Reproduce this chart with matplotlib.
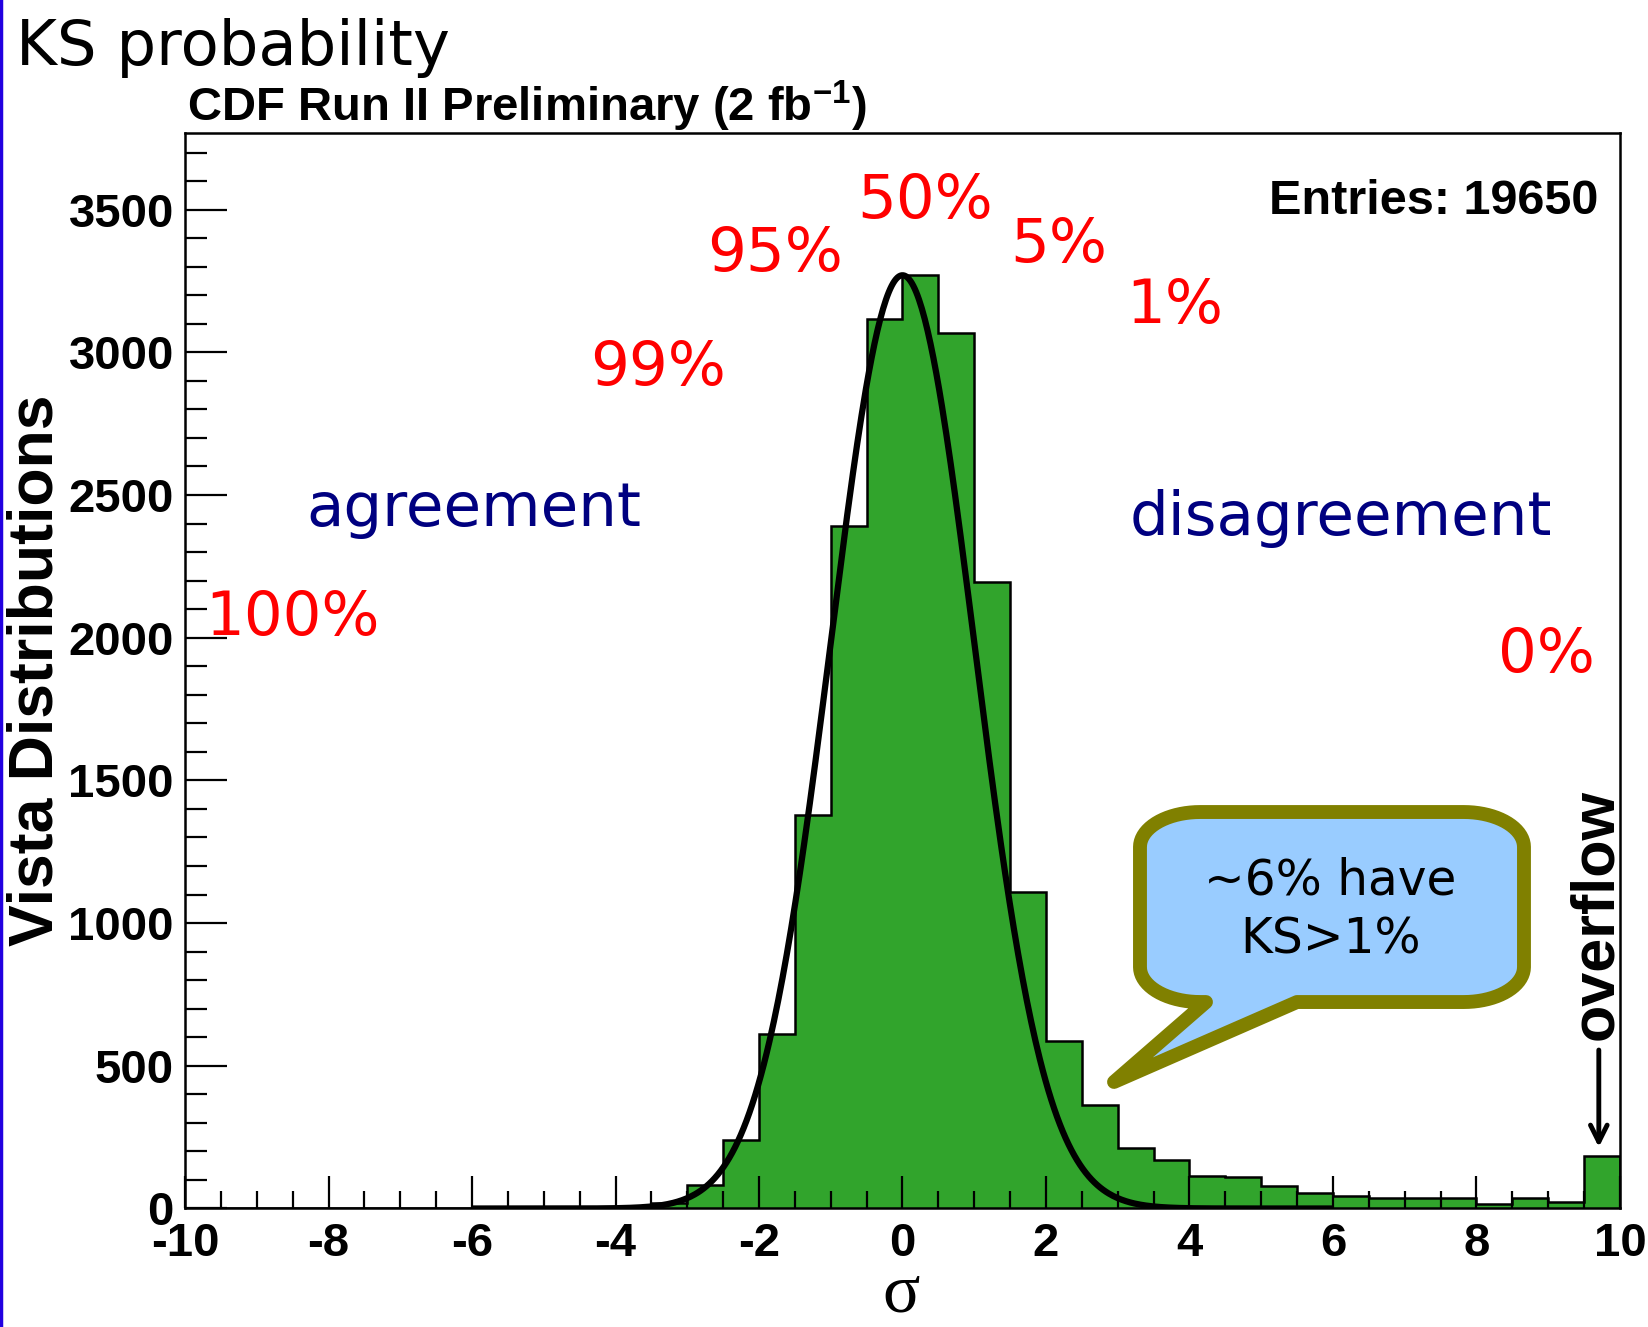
import numpy as np
import matplotlib
matplotlib.use('Agg')
import matplotlib.pyplot as plt
from matplotlib.patches import Polygon
from matplotlib.lines import Line2D

# histogram of sigma values, 40 bins of width 0.5 from -10 to 10
bin_edges = np.linspace(-10, 10, 41)
counts = [0, 0, 0, 0, 0, 0, 0, 0, 0, 0, 0, 0,
          4, 18, 81, 241, 612, 1378, 2392, 3118,
          3270, 3066, 2196, 1109, 586, 361, 212, 170,
          115, 109, 80, 53, 44, 36, 36, 36, 17, 36, 24, 185]

# gaussian fit drawn over the histogram
fit_amp = 3270
fit_mean = 0.0
fit_sigma = 1.0
fit_range = (-6, 6)

# red KS probability labels: text, x, y (data coords)
pct_labels = ['100%', '99%', '95%', '50%', '5%', '1%', '0%']
pct_x = [-8.50, -3.40, -1.78, 0.32, 2.18, 3.79, 8.98]
pct_y = [2011, 2885, 3286, 3470, 3316, 3102, 1879]

entries = 19650

plt.rcParams['axes.unicode_minus'] = False
plt.rcParams['mathtext.fontset'] = 'custom'
plt.rcParams['mathtext.rm'] = 'Liberation Sans:bold'
plt.rcParams['mathtext.it'] = 'Liberation Sans:bold'
plt.rcParams['mathtext.bf'] = 'Liberation Sans:bold'

green = '#31a42c'
root_font = dict(family='Liberation Sans', weight='bold')

fig = plt.figure(figsize=(16.49, 13.27), dpi=100)
ax = fig.add_axes([0.1122, 0.0893, 0.8702, 0.8108])

ax.stairs(counts, bin_edges, fill=True, color=green)
ax.stairs(counts, bin_edges, color='black', lw=1.8)

xs = np.linspace(fit_range[0], fit_range[1], 600)
ax.plot(xs, fit_amp * np.exp(-0.5 * ((xs - fit_mean) / fit_sigma) ** 2),
        color='black', lw=4.5, solid_capstyle='butt')

ax.set_xlim(-10, 10)
ax.set_ylim(0, 3770)
ax.set_xticks(np.arange(-10, 11, 2))
ax.set_xticks(np.arange(-10, 10.01, 0.5), minor=True)
ax.set_yticks(np.arange(0, 3501, 500))
ax.set_yticks(np.arange(0, 3770, 100), minor=True)
ax.tick_params(axis='both', which='both', direction='in', width=1.6,
               top=False, right=False)
ax.tick_params(axis='x', which='major', length=23, pad=10)
ax.tick_params(axis='x', which='minor', length=12)
ax.tick_params(axis='y', which='major', length=30, pad=8)
ax.tick_params(axis='y', which='minor', length=16)
for lab in ax.get_xticklabels() + ax.get_yticklabels():
    lab.set_fontfamily('Liberation Sans')
    lab.set_fontweight('bold')
    lab.set_fontsize(34)
for sp in ax.spines.values():
    sp.set_linewidth(1.8)

ax.set_ylabel('Vista Distributions', fontsize=45, labelpad=2, **root_font)
# x axis title, placed by hand to sit low like the original
fig.text(901 / 1649, 1 - 1312 / 1327, 'σ', fontsize=50,
         family='Liberation Serif', ha='center', va='baseline')

fig.text(187 / 1649, 1 - 121 / 1327, r'CDF Run II Preliminary (2 fb$^{-1}$)',
         fontsize=34, va='baseline', ha='left', **root_font)
fig.text(16 / 1649, 1 - 65 / 1327, 'KS probability', fontsize=45,
         family='DejaVu Sans', va='baseline', ha='left')
fig.add_artist(Line2D([1.5 / 1649, 1.5 / 1649], [0, 1], color='#2200e0', lw=2.5,
                      transform=fig.transFigure))

ax.text(9.70, 3485, f'Entries: {entries}', fontsize=35, ha='right',
        va='baseline', **root_font)

for lab, x, y in zip(pct_labels, pct_x, pct_y):
    ax.text(x, y, lab, color='red', fontsize=44, family='DejaVu Sans',
            ha='center', va='baseline', clip_on=False)
ax.text(-5.98, 2391, 'agreement', color='#000080', fontsize=44,
        family='DejaVu Sans', ha='center', va='baseline')
ax.text(6.11, 2361, 'disagreement', color='#000080', fontsize=44,
        family='DejaVu Sans', ha='center', va='baseline')

# overflow marker
ax.text(9.67, 590, 'overflow', rotation=90, fontsize=44, ha='center',
        va='bottom', **root_font)
ax.annotate('', xy=(9.705, 205), xytext=(9.705, 565),
            arrowprops=dict(arrowstyle='->,head_length=1.2,head_width=0.6',
                            color='black', lw=3.5))

# callout bubble: rounded box with a tail, one outline (axes fraction)
x0, x1, y0, y1 = 0.6655, 0.9331, 0.1919, 0.3685
rx, ry = 0.042, 0.0325
tip = (0.6474, 0.1176)
tail_l, tail_r = 0.7115, 0.7749


def arc(cx, cy, a0, a1):
    t = np.radians(np.linspace(a0, a1, 20))
    return list(zip(cx + rx * np.cos(t), cy + ry * np.sin(t)))


verts = arc(x0 + rx, y0 + ry, 180, 270)
verts += [(tail_l, y0), tip, (tail_r, y0)]
verts += arc(x1 - rx, y0 + ry, 270, 360)
verts += arc(x1 - rx, y1 - ry, 0, 90)
verts += arc(x0 + rx, y1 - ry, 90, 180)
ax.add_patch(Polygon(verts, closed=True, facecolor='#99ccff',
                     edgecolor='#808000', lw=10, joinstyle='round',
                     transform=ax.transAxes, clip_on=False, zorder=6))
ax.text(0.798, 0.2774, '~6% have\nKS>1%', fontsize=35, family='DejaVu Sans',
        ha='center', va='center', linespacing=1.3, transform=ax.transAxes,
        zorder=8)

fig.savefig('out.png', dpi=100)
